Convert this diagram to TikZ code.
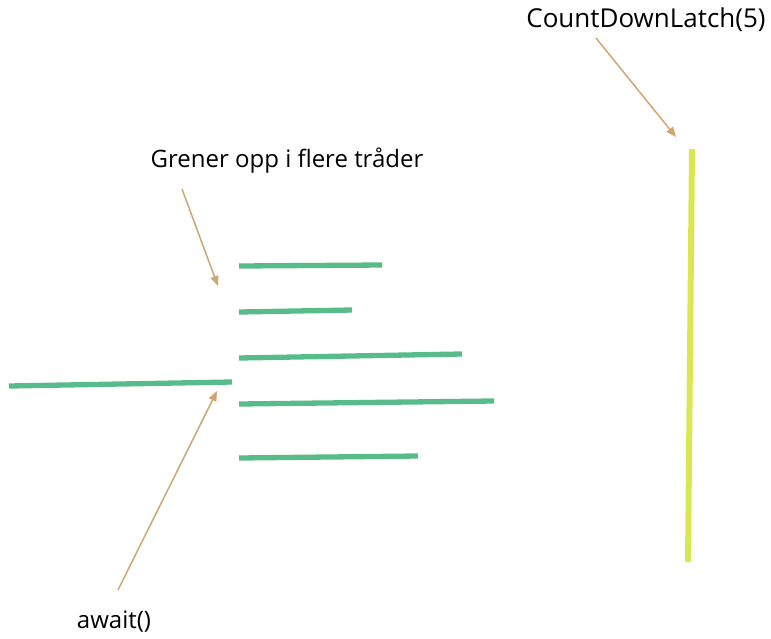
\documentclass[tikz,border=0pt]{standalone}
\usepackage{fontspec}
\setmainfont{Open Sans}
\usepackage{tikz}
\usetikzlibrary{arrows.meta}
\definecolor{threadgreen}{RGB}{87,187,138}
\definecolor{latchyellow}{RGB}{218,230,82}
\definecolor{pointertan}{RGB}{205,166,116}
\tikzset{
    thread/.style={draw=threadgreen, line width=5.3pt},
    pointer/.style={draw=pointertan, line width=1.5pt, -{Triangle[length=10pt,width=8pt]}},
    caption/.style={font=\fontsize{24}{28}\selectfont, inner sep=0pt}
}
\def\Thread (#1,#2) to (#3,#4); {
    \draw[thread] (#1,#2) -- (#3,#4);
}
\begin{document}
\begin{tikzpicture}[x=1pt,y=-1pt]
        \useasboundingbox (0,0) rectangle (771,638);
        \node[caption, font=\fontsize{26}{30}\selectfont] (latch) at (646,20) {CountDownLatch(5)};
        \node[caption] (branch) at (287,161) {Grener opp i flere tråder};
        \node[caption] (await) at (114,622) {await()};
        \Thread (9,386) to (232,382); % main thread
        \Thread (239,266) to (382,265);
        \Thread (239,312) to (352,310);
        \Thread (239,358) to (462,354);
        \Thread (239,404) to (494,401);
        \Thread (239,458) to (418,456);
        \draw[draw=latchyellow, line width=6pt] (692,149) -- (688,562); % latch
        \coordinate (latchFrom) at (596,38);
        \coordinate (latchTip) at (676,137);
        \coordinate (branchFrom) at (182,189);
        \coordinate (branchTip) at (218,286);
        \coordinate (awaitFrom) at (118,590);
        \coordinate (awaitTip) at (217,391);
        \draw[pointer] (latchFrom) -- (latchTip);
        \draw[pointer] (branchFrom) -- (branchTip);
        \draw[pointer] (awaitFrom) -- (awaitTip);
    \end{tikzpicture}
\end{document}
